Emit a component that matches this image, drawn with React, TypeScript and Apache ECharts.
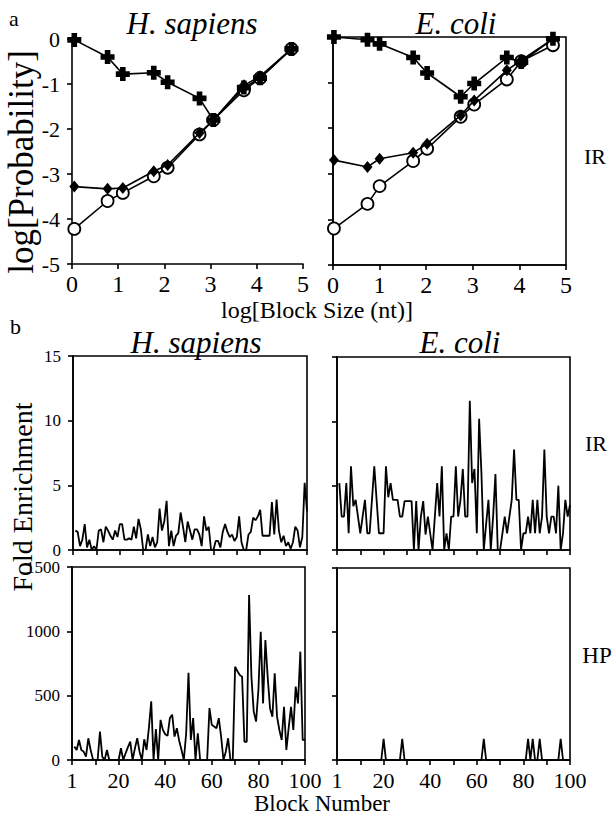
import React, { useEffect, useRef } from "react";
import * as echarts from "echarts";

// ---------- Panel a data (log block size vs log probability) ----------
const hsX = [0.05, 0.77, 1.1, 1.77, 2.07, 2.76, 3.06, 3.72, 4.07, 4.75];
const hsPlus = [-0.02, -0.4, -0.78, -0.75, -0.96, -1.32, -1.8, -1.08, -0.87, -0.22];
const hsDiamond = [-3.28, -3.33, -3.31, -2.94, -2.8, -2.09, -1.8, -1.03, -0.83, -0.22];
const hsCircle = [-4.22, -3.6, -3.42, -3.05, -2.86, -2.12, -1.8, -1.14, -0.87, -0.22];

const ecX = [0.02, 0.74, 1.0, 1.72, 2.02, 2.74, 3.03, 3.73, 4.04, 4.72];
const ecPlus = [0, -0.06, -0.15, -0.45, -0.79, -1.31, -1.02, -0.45, -0.55, -0.04];
const ecDiamond = [-2.7, -2.85, -2.67, -2.54, -2.34, -1.72, -1.39, -0.73, -0.51, -0.04];
const ecCircle = [-4.2, -3.66, -3.27, -2.72, -2.45, -1.75, -1.48, -0.93, -0.53, -0.18];

const aXTicks = [0, 1, 2, 3, 4, 5];
const aYTicks = [0, -1, -2, -3, -4, -5];

// ---------- Panel b data (fold enrichment per block, blocks 1..100) ----------
const hsIR = [
  1.5, 1.4, 0.3, 0.8, 2.0, 0.2, 0.8, 0.0, 0.3, 0.0,
  1.5, 1.6, 0.6, 1.8, 1.5, 1.1, 0.8, 1.5, 1.0, 2.0,
  2.0, 0.8, 0.8, 0.9, 0.8, 1.8, 0.9, 2.4, 1.6, 0.0,
  0.0, 1.2, 0.3, 1.0, 0.2, 0.6, 3.2, 1.5, 2.2, 3.8,
  0.3, 1.5, 0.3, 1.1, 1.3, 2.9, 1.8, 0.6, 2.2, 1.5,
  0.8, 1.6, 1.6, 1.2, 0.3, 2.6, 1.5, 1.8, 0.0, 0.0,
  0.7, 0.7, 0.2, 1.4, 2.0, 1.4, 1.0, 1.2, 0.7, 1.0,
  2.6, 0.6, 0.0, 0.0, 1.2, 1.4, 2.5, 2.3, 2.6, 3.1,
  1.1, 1.1, 1.1, 1.1, 3.7, 1.2, 3.9, 1.5, 0.6, 1.1,
  0.3, 0.6, 0.1, 0.6, 1.8, 1.5, 0.2, 1.0, 5.2, 3.0,
];
const ecIR = [
  5.2, 2.6, 2.6, 5.2, 1.3, 6.5, 3.4, 3.9, 2.6, 1.3,
  2.6, 3.9, 1.3, 1.3, 3.9, 6.5, 3.9, 1.3, 1.3, 1.3,
  6.5, 4.1, 5.2, 3.9, 3.9, 3.9, 2.6, 2.6, 3.8, 3.8,
  3.8, 3.8, 0.0, 3.8, 0.0, 2.6, 3.8, 1.2, 2.6, 1.3,
  0.0, 2.6, 5.2, 2.6, 6.5, 0.0, 1.3, 0.0, 2.6, 2.6,
  6.5, 2.6, 3.9, 6.3, 2.6, 2.6, 11.6, 5.2, 6.3, 1.3,
  10.2, 5.9, 0.0, 2.0, 3.9, 0.0, 2.6, 5.9, 0.0, 0.0,
  1.3, 2.6, 1.3, 2.6, 3.9, 7.8, 3.9, 3.9, 0.0, 1.3,
  1.3, 2.6, 1.3, 3.9, 1.3, 3.9, 1.3, 2.6, 7.8, 2.6,
  1.3, 2.6, 2.6, 1.3, 5.0, 0.0, 1.3, 3.9, 2.6, 3.5,
];
const hsHP = [
  104, 78, 156, 78, 65, 26, 169, 78, 5, 0,
  0, 221, 26, 0, 78, 0, 0, 0, 0, 0,
  91, 0, 52, 100, 143, 0, 90, 169, 65, 0,
  161, 78, 250, 456, 0, 240, 0, 312, 234, 200,
  188, 326, 352, 182, 247, 150, 78, 0, 208, 677,
  156, 326, 0, 208, 0, 0, 0, 0, 404, 273,
  260, 247, 325, 182, 0, 65, 169, 0, 0, 725,
  690, 661, 648, 142, 142, 1283, 648, 376, 298, 544,
  997, 440, 933, 640, 400, 337, 673, 337, 233, 155,
  414, 78, 250, 414, 233, 570, 440, 842, 155, 160,
];
const ecHP = [
  0, 0, 0, 0, 0, 0, 0, 0, 0, 0,
  0, 0, 0, 0, 0, 0, 0, 0, 0, 165,
  0, 0, 0, 0, 0, 0, 0, 165, 0, 0,
  0, 0, 0, 0, 0, 0, 0, 0, 0, 0,
  0, 0, 0, 0, 0, 0, 0, 0, 0, 0,
  0, 0, 0, 0, 0, 0, 0, 0, 0, 0,
  0, 0, 165, 0, 0, 0, 0, 0, 0, 0,
  0, 0, 0, 0, 0, 0, 0, 0, 0, 0,
  0, 165, 0, 165, 0, 0, 165, 0, 0, 0,
  0, 0, 0, 0, 0, 165, 0, 0, 0, 0,
];
const bXTickLabels = ["1", "", "20", "", "40", "", "60", "", "80", "", "100"];

const SERIF = "Liberation Serif, Times New Roman, serif";
const PLUS = "path://M3,0H7V3H10V7H7V10H3V7H0V3H3Z";

const axisCommon = {
  axisLine: { show: true, onZero: false, lineStyle: { color: "#000", width: 1.6 } },
  axisTick: { show: true, length: 5, lineStyle: { color: "#000", width: 1.6 } },
  splitLine: { show: false },
};

function pairs(xs: number[], ys: number[]) {
  return ys.map((y, i) => [xs[i], y]);
}
function blocks(vals: number[]) {
  return vals.map((v, i) => [i + 1, v]);
}

export default function App() {
  const ref = useRef<HTMLDivElement>(null);
  useEffect(() => {
    if (!ref.current) return;
    const chart = echarts.init(ref.current, null, { renderer: "svg" });

    const grids = [
      { left: 72, top: 39, width: 231, height: 225, show: false },
      { left: 333, top: 37, width: 233, height: 228, show: true },
      { left: 73, top: 356, width: 234, height: 194, show: true },
      { left: 337, top: 357, width: 233, height: 193, show: true },
      { left: 72, top: 567, width: 233, height: 193, show: true },
      { left: 337, top: 568, width: 233, height: 192, show: true },
    ].map((g) => ({ ...g, borderColor: "#000", borderWidth: 1.6, backgroundColor: "transparent" }));

    const aX = (gi: number) => ({
      type: "value", gridIndex: gi, min: aXTicks[0], max: aXTicks[aXTicks.length - 1], interval: 1,
      ...axisCommon,
      axisLabel: { show: true, color: "#000", fontFamily: SERIF, fontSize: 24, margin: 8 },
    });
    const aY = (gi: number, labels: boolean) => ({
      type: "value", gridIndex: gi, min: aYTicks[aYTicks.length - 1], max: aYTicks[0], interval: 1,
      ...axisCommon,
      axisLabel: {
        show: labels, color: "#000", fontFamily: SERIF, fontSize: 22, margin: 12,
        formatter: (v: number) => String(v),
      },
    });
    const bX = (gi: number, labels: boolean) => ({
      type: "value", gridIndex: gi, min: 0, max: 100, interval: 10,
      ...axisCommon,
      axisLabel: {
        show: labels, color: "#000", fontFamily: SERIF, fontSize: 22, margin: 9,
        formatter: (_v: number, i: number) => bXTickLabels[i] ?? "",
      },
    });
    const bY = (gi: number, max: number, interval: number, labels: boolean) => ({
      type: "value", gridIndex: gi, min: 0, max, interval,
      ...axisCommon,
      axisLabel: {
        show: labels, color: "#000", fontFamily: SERIF, fontSize: 17, margin: 12,
        formatter: (v: number) => String(v),
      },
    });

    const lineBase = { type: "line", lineStyle: { color: "#000", width: 1.6 } };
    const circleS = (gi: number, xs: number[], ys: number[]) => ({
      ...lineBase, xAxisIndex: gi, yAxisIndex: gi, data: pairs(xs, ys),
      symbol: "circle", symbolSize: 12, z: 3,
      itemStyle: { color: "#fff", borderColor: "#000", borderWidth: 1.8 },
    });
    const diamondS = (gi: number, xs: number[], ys: number[]) => ({
      ...lineBase, xAxisIndex: gi, yAxisIndex: gi, data: pairs(xs, ys),
      symbol: "diamond", symbolSize: [10, 12], z: 4,
      itemStyle: { color: "#000" },
    });
    const plusS = (gi: number, xs: number[], ys: number[]) => ({
      ...lineBase, xAxisIndex: gi, yAxisIndex: gi, data: pairs(xs, ys),
      symbol: PLUS, symbolSize: 14, z: 5,
      itemStyle: { color: "#000" },
    });
    const traceS = (gi: number, vals: number[]) => ({
      type: "line", xAxisIndex: gi, yAxisIndex: gi, data: blocks(vals),
      showSymbol: false, symbol: "none",
      lineStyle: { color: "#000", width: 1.8 },
    });

    const txt = (text: string, x: number, y: number, size: number, opts: any = {}) => ({
      type: "text", x, y, rotation: opts.rotation || 0, z: 10,
      style: {
        text, fill: "#000",
        fontFamily: SERIF, fontSize: size, fontStyle: opts.italic ? "italic" : "normal",
        textAlign: opts.align || "center", textVerticalAlign: "middle",
      },
    });

    chart.setOption({
      animation: false,
      backgroundColor: "#fff",
      grid: grids,
      xAxis: [aX(0), aX(1), bX(2, false), bX(3, false), bX(4, true), bX(5, true)],
      yAxis: [aY(0, true), aY(1, false), bY(2, 15, 5, true), bY(3, 15, 5, false), bY(4, 1500, 500, true), bY(5, 1500, 500, false)],
      series: [
        circleS(0, hsX, hsCircle), diamondS(0, hsX, hsDiamond), plusS(0, hsX, hsPlus),
        circleS(1, ecX, ecCircle), diamondS(1, ecX, ecDiamond), plusS(1, ecX, ecPlus),
        traceS(2, hsIR), traceS(3, ecIR), traceS(4, hsHP), traceS(5, ecHP),
      ],
      graphic: [
        txt("a", 9, 18, 22, { align: "left" }),
        txt("H. sapiens", 192, 23, 31, { italic: true }),
        txt("E. coli", 456, 23, 31, { italic: true }),
        txt("IR", 595, 156, 22),
        txt("log[Probability]", 21, 162, 35, { rotation: Math.PI / 2 }),
        txt("log[Block Size (nt)]", 317, 310, 24),
        txt("b", 10, 326, 22, { align: "left" }),
        txt("H. sapiens", 196, 342, 31, { italic: true }),
        txt("E. coli", 460, 342, 31, { italic: true }),
        txt("IR", 596, 443, 22),
        txt("HP", 597, 655, 23),
        txt("Fold Enrichment", 22, 497, 28, { rotation: Math.PI / 2 }),
        txt("Block Number", 322, 803, 23),
      ],
    });
    return () => chart.dispose();
  }, []);
  return (
    <div
      ref={ref}
      style={{ position: "fixed", left: 0, top: 0, width: 613, height: 817, background: "#fff" }}
    />
  );
}
